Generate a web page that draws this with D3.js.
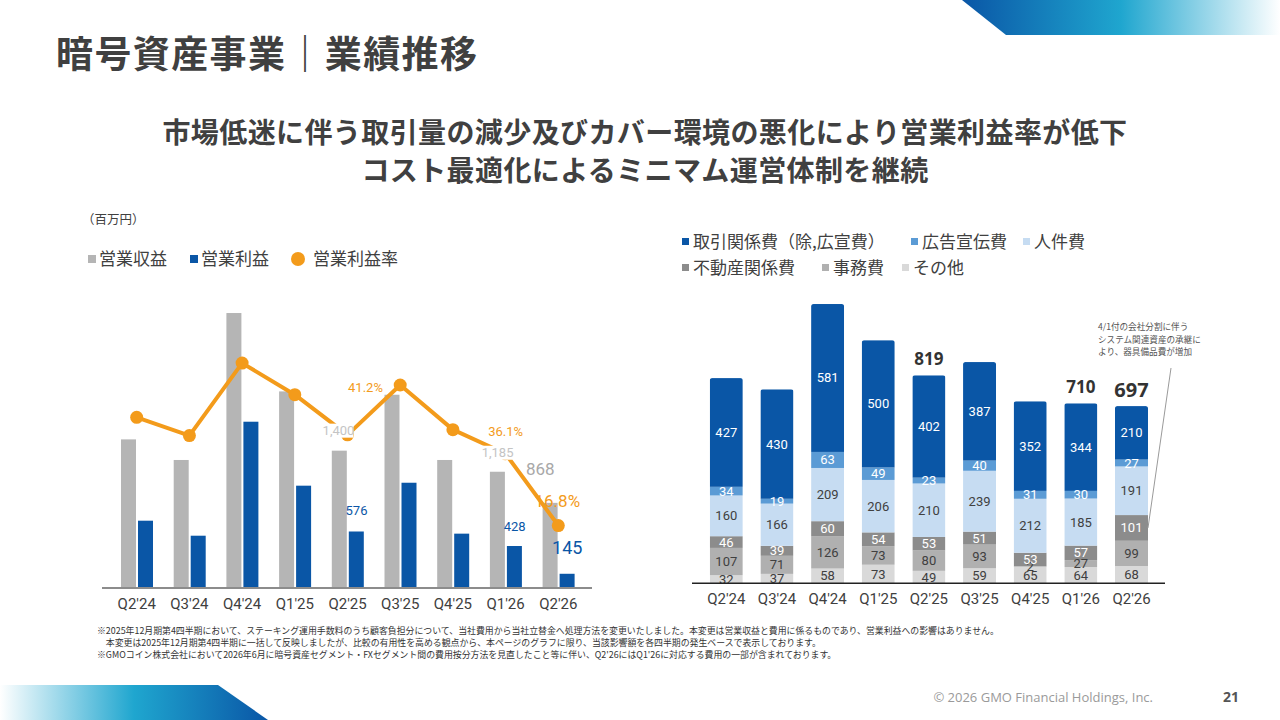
<!DOCTYPE html>
<html><head><meta charset="utf-8">
<script src="https://cdn.jsdelivr.net/npm/d3@7"></script>
<style>
html,body{margin:0;padding:0;background:#fff;}
svg{display:block;}
</style></head>
<body>
<svg id="c" width="1280" height="720"></svg>
<script>
// ---------- data ----------
const quarters = ["Q2'24","Q3'24","Q4'24","Q1'25","Q2'25","Q3'25","Q4'25","Q1'26","Q2'26"];
// left chart (百万円)
const revenue = [1515, 1305, 2803, 2004, 1400, 1970, 1305, 1185, 868];
const profit  = [686, 533, 1695, 1043, 576, 1073, 554, 428, 145];
const margin  = [45.9, 41.0, 60.5, 52.0, 41.2, 54.6, 42.6, 36.1, 16.8];
// right chart cost breakdown (bottom to top)
const costKeys   = ["その他","事務費","不動産関係費","人件費","広告宣伝費","取引関係費"];
const costOther  = [32, 37, 58, 73, 49, 59, 65, 64, 68];
const costOffice = [107, 71, 126, 73, 80, 93, 2, 27, 99];
const costRealty = [46, 39, 60, 54, 53, 51, 53, 57, 101];
const costStaff  = [160, 166, 209, 206, 210, 239, 212, 185, 191];
const costAds    = [34, 19, 63, 49, 23, 40, 31, 30, 27];
const costTrade  = [427, 430, 581, 500, 402, 387, 352, 344, 210];
const costTotalLabels = [null, null, null, null, 819, null, null, 710, 697];

const FONT_JP = "'Noto Sans CJK JP','Noto Sans',sans-serif";
const FONT_NUM = "Roboto,'Noto Sans',sans-serif";
const svg = d3.select("#c");
const defs = svg.append("defs");

// ---------- decorations ----------
const g1 = defs.append("linearGradient").attr("id","gTop").attr("x1","0").attr("x2","1").attr("y1","0").attr("y2","0");
g1.append("stop").attr("offset","0").attr("stop-color","#0a56a6");
g1.append("stop").attr("offset","0.5").attr("stop-color","#1fa6cf");
g1.append("stop").attr("offset","1").attr("stop-color","#ffffff");
svg.append("polygon").attr("points","962,0 1280,0 1280,35 1006,35").attr("fill","url(#gTop)");
const g2 = defs.append("linearGradient").attr("id","gBot").attr("x1","0").attr("x2","1").attr("y1","0").attr("y2","0");
g2.append("stop").attr("offset","0").attr("stop-color","#ffffff");
g2.append("stop").attr("offset","0.5").attr("stop-color","#1fa6cf");
g2.append("stop").attr("offset","1").attr("stop-color","#0a56a6");
svg.append("polygon").attr("points","0,685 218,685 268,720 0,720").attr("fill","url(#gBot)");

// ---------- titles ----------
svg.append("text").attr("x",56).attr("y",68).attr("font-family",FONT_JP).attr("font-weight",700)
  .attr("font-size",37).attr("letter-spacing",1.4).attr("fill","#404040").text("暗号資産事業｜業績推移");
const subs = ["市場低迷に伴う取引量の減少及びカバー環境の悪化により営業利益率が低下","コスト最適化によるミニマム運営体制を継続"];
svg.selectAll("text.sub").data(subs).join("text").attr("class","sub")
  .attr("x",645).attr("y",(d,i)=>143+i*38).attr("text-anchor","middle")
  .attr("font-family",FONT_JP).attr("font-weight",700).attr("font-size",28).attr("letter-spacing",0.4)
  .attr("fill","#404040").text(d=>d);

// ---------- left chart ----------
const L = {base:588};
const xL = d3.scaleBand().domain(quarters).range([110.35, 584.65]);
const yRev = d3.scaleLinear().domain([0,3000]).range([L.base, L.base-294.3]);
const yMar = d3.scaleLinear().domain([0,80]).range([L.base, L.base-297.4]);
const cL = q => xL(q) + xL.bandwidth()/2;
const BW = 15;

svg.append("text").attr("x",82).attr("y",224).attr("font-family",FONT_JP).attr("font-size",12.5)
  .attr("fill","#404040").text("（百万円）");
// legend left
const legL = svg.append("g").attr("font-family",FONT_JP).attr("font-size",17).attr("fill","#404040");
legL.append("rect").attr("x",88).attr("y",255).attr("width",8).attr("height",8).attr("fill","#b5b5b5");
legL.append("text").attr("x",99).attr("y",265).text("営業収益");
legL.append("rect").attr("x",190).attr("y",255).attr("width",8).attr("height",8).attr("fill","#0a56a6");
legL.append("text").attr("x",201).attr("y",265).text("営業利益");
legL.append("circle").attr("cx",298).attr("cy",259).attr("r",7).attr("fill","#f39b1b");
legL.append("text").attr("x",313).attr("y",265).text("営業利益率");

const gl = svg.append("g");
gl.selectAll("rect.rev").data(revenue).join("rect").attr("class","rev")
  .attr("x",(d,i)=>cL(quarters[i])-15.7).attr("width",BW)
  .attr("y",d=>yRev(d)).attr("height",d=>L.base-yRev(d)).attr("fill","#b5b5b5");
gl.selectAll("rect.pro").data(profit).join("rect").attr("class","pro")
  .attr("x",(d,i)=>cL(quarters[i])+1.3).attr("width",BW)
  .attr("y",d=>yRev(d)).attr("height",d=>L.base-yRev(d)).attr("fill","#0a56a6");
// axis
const axL = svg.append("g").attr("transform",`translate(0,${L.base})`)
  .call(d3.axisBottom(xL).tickSize(0).tickPadding(10));
axL.select(".domain").remove();
axL.append("line").attr("x1",102).attr("x2",592).attr("y1",0).attr("y2",0).attr("stroke","#8c8c8c").attr("stroke-width",2);
axL.selectAll(".tick text").attr("font-family",FONT_NUM).attr("font-size",15).attr("fill","#404040");

// margin line
const line = d3.line().x((d,i)=>cL(quarters[i])).y(d=>yMar(d));
gl.append("path").datum(margin).attr("d",line).attr("fill","none").attr("stroke","#f39b1b").attr("stroke-width",4).attr("stroke-linejoin","round");
gl.selectAll("circle.m").data(margin).join("circle").attr("class","m")
  .attr("cx",(d,i)=>cL(quarters[i])).attr("cy",d=>yMar(d)).attr("r",6.5).attr("fill","#f39b1b");

// data labels (only the ones shown in the reference)
const fmt = d3.format(",");
const leftLabels = [
  {s:"rev", i:4, dx:-9, dy:-16, size:13, color:"#c4c4c4", bg:true},
  {s:"rev", i:7, dx:-8, dy:-15, size:13, color:"#c4c4c4", bg:true},
  {s:"rev", i:8, dx:-18, dy:-28, size:17, color:"#a8a8a8"},
  {s:"pro", i:4, dx:9, dy:-16, size:13, color:"#0a56a6"},
  {s:"pro", i:7, dx:9, dy:-15, size:13, color:"#0a56a6"},
  {s:"pro", i:8, dx:9, dy:-20, size:18, color:"#0a56a6"},
  {s:"mar", i:4, dx:18, dy:-43, size:13, color:"#f39b1b"},
  {s:"mar", i:7, dx:0, dy:-18, size:13, color:"#f39b1b"},
  {s:"mar", i:8, dx:-1, dy:-19, size:17, color:"#f39b1b"}
];
const labY = d => d.s==="rev" ? yRev(revenue[d.i])+d.dy : d.s==="pro" ? yRev(profit[d.i])+d.dy : yMar(margin[d.i])+d.dy;
const labT = d => d.s==="rev" ? fmt(revenue[d.i]) : d.s==="pro" ? fmt(profit[d.i]) : margin[d.i].toFixed(1)+"%";
gl.selectAll("rect.labbg").data(leftLabels.filter(d=>d.bg)).join("rect").attr("class","labbg")
  .attr("x",d=>cL(quarters[d.i])+d.dx-15).attr("y",d=>labY(d)-11).attr("width",30).attr("height",14)
  .attr("fill","#fff");
gl.selectAll("text.lab").data(leftLabels).join("text").attr("class","lab")
  .attr("text-anchor","middle").attr("font-family",FONT_NUM)
  .attr("font-size",d=>d.size).attr("fill",d=>d.color)
  .attr("x",d=>cL(quarters[d.i])+d.dx)
  .attr("y",labY)
  .text(labT);

// ---------- right chart ----------
const R = {base:583.3};
const xR = d3.scaleBand().domain(quarters).range([700.97, 1156.82]);
const yR = d3.scaleLinear().domain([0,1200]).range([R.base, R.base-305.5]);
const cR = q => xR(q) + xR.bandwidth()/2;
const RBW = 33;
const costColors = {"取引関係費":"#0a56a6","広告宣伝費":"#5b9bd5","人件費":"#c6dcf2","不動産関係費":"#8c8c8c","事務費":"#b0b0b0","その他":"#d9d9d9"};
const labColors = {"取引関係費":"#ffffff","広告宣伝費":"#ffffff","人件費":"#404040","不動産関係費":"#ffffff","事務費":"#404040","その他":"#404040"};
const seriesArr = {"その他":costOther,"事務費":costOffice,"不動産関係費":costRealty,"人件費":costStaff,"広告宣伝費":costAds,"取引関係費":costTrade};
const table = quarters.map((q,i)=>{const o={q}; costKeys.forEach(k=>o[k]=seriesArr[k][i]); return o;});
const stacked = d3.stack().keys(costKeys)(table);
const topOf = i => stacked[stacked.length-1][i][1];

// clip for rounded tops
const gr = svg.append("g");
table.forEach((row,i)=>{
  defs.append("clipPath").attr("id","cp"+i).append("rect")
    .attr("x",cR(row.q)-RBW/2).attr("width",RBW).attr("y",yR(topOf(i))).attr("height",R.base-yR(topOf(i))+4).attr("rx",2.5);
});
stacked.forEach(layer=>{
  const k = layer.key;
  gr.selectAll(null).data(layer).join("rect")
    .attr("clip-path",(d,i)=>`url(#cp${i})`)
    .attr("x",d=>cR(d.data.q)-RBW/2).attr("width",RBW)
    .attr("y",d=>yR(d[1])).attr("height",d=>yR(d[0])-yR(d[1]))
    .attr("fill",costColors[k]);
});
stacked.forEach(layer=>{
  const k = layer.key;
  gr.selectAll(null).data(layer).join("text")
    .attr("x",d=>cR(d.data.q)).attr("y",d=>(yR(d[0])+yR(d[1]))/2+4.5)
    .attr("text-anchor","middle").attr("font-family",FONT_NUM).attr("font-size",13)
    .attr("fill",labColors[k]).text(d=>d[1]-d[0]);
});
// totals
const totData = costTotalLabels.map((v,i)=>({v,i})).filter(d=>d.v!==null);
gr.selectAll("text.tot").data(totData).join("text").attr("class","tot")
  .attr("x",d=>cR(quarters[d.i])).attr("y",d=>yR(topOf(d.i))-(d.i===quarters.length-1?9:10))
  .attr("text-anchor","middle").attr("font-family","'Noto Sans',sans-serif").attr("font-weight",700)
  .attr("font-size",d=> d.i===quarters.length-1 ? 20 : 17).attr("fill","#333").text(d=>d.v);

const axR = svg.append("g").attr("transform",`translate(0,${R.base})`)
  .call(d3.axisBottom(xR).tickSize(0).tickPadding(10));
axR.select(".domain").remove();
axR.append("line").attr("x1",692).attr("x2",1165).attr("y1",0).attr("y2",0).attr("stroke","#222").attr("stroke-width",1.5);
axR.selectAll(".tick text").attr("font-family",FONT_NUM).attr("font-size",15).attr("fill","#404040");

// legend right
const legR = [
  {k:"取引関係費", t:"取引関係費（除,広宣費）", x:682, row:0},
  {k:"広告宣伝費", t:"広告宣伝費", x:911, row:0},
  {k:"人件費", t:"人件費", x:1023, row:0},
  {k:"不動産関係費", t:"不動産関係費", x:682, row:1},
  {k:"事務費", t:"事務費", x:822, row:1},
  {k:"その他", t:"その他", x:902, row:1}
];
const lg = svg.append("g").attr("font-family",FONT_JP).attr("font-size",17).attr("fill","#404040");
lg.selectAll("rect").data(legR).join("rect").attr("x",d=>d.x).attr("y",d=>238+d.row*26).attr("width",7).attr("height",7).attr("fill",d=>costColors[d.k]);
lg.selectAll("text").data(legR).join("text").attr("x",d=>d.x+11).attr("y",d=>248+d.row*26).text(d=>d.t);

// annotation
const ann = ["4/1付の会社分割に伴う","システム関連資産の承継に","より、器具備品費が増加"];
svg.selectAll("text.ann").data(ann).join("text").attr("class","ann")
  .attr("x",1098).attr("y",(d,i)=>330+i*12.5).attr("font-family",FONT_JP).attr("font-size",8.6)
  .attr("fill","#555").text(d=>d);
svg.append("line").attr("x1",1171).attr("y1",368)
  .attr("x2",cR(quarters[8])+RBW/2).attr("y2",(yR(stacked[2][8][1])+yR(stacked[2][8][0]))/2)
  .attr("stroke","#9a9a9a").attr("stroke-width",1);

// footnotes
const notes = [
  "※2025年12月期第4四半期において、ステーキング運用手数料のうち顧客負担分について、当社費用から当社立替金へ処理方法を変更いたしました。本変更は営業収益と費用に係るものであり、営業利益への影響はありません。",
  "　本変更は2025年12月期第4四半期に一括して反映しましたが、比較の有用性を高める観点から、本ページのグラフに限り、当該影響額を各四半期の発生ベースで表示しております。",
  "※GMOコイン株式会社において2026年6月に暗号資産セグメント・FXセグメント間の費用按分方法を見直したこと等に伴い、Q2'26にはQ1'26に対応する費用の一部が含まれております。"
];
svg.selectAll("text.note").data(notes).join("text").attr("class","note")
  .attr("x",97).attr("y",(d,i)=>634+i*12).attr("font-family",FONT_JP).attr("font-size",8.9)
  .attr("fill","#333").text(d=>d);

// footer
svg.append("text").attr("x",1153).attr("y",702).attr("text-anchor","end").attr("font-family","'Open Sans','Noto Sans',sans-serif")
  .attr("font-size",13).attr("fill","#9a9a9a").text("© 2026 GMO Financial Holdings, Inc.");
svg.append("text").attr("x",1239).attr("y",702).attr("text-anchor","end").attr("font-family","'Open Sans','Noto Sans',sans-serif")
  .attr("font-weight",700).attr("font-size",14).attr("fill","#555").text("21");
</script>
</body></html>
